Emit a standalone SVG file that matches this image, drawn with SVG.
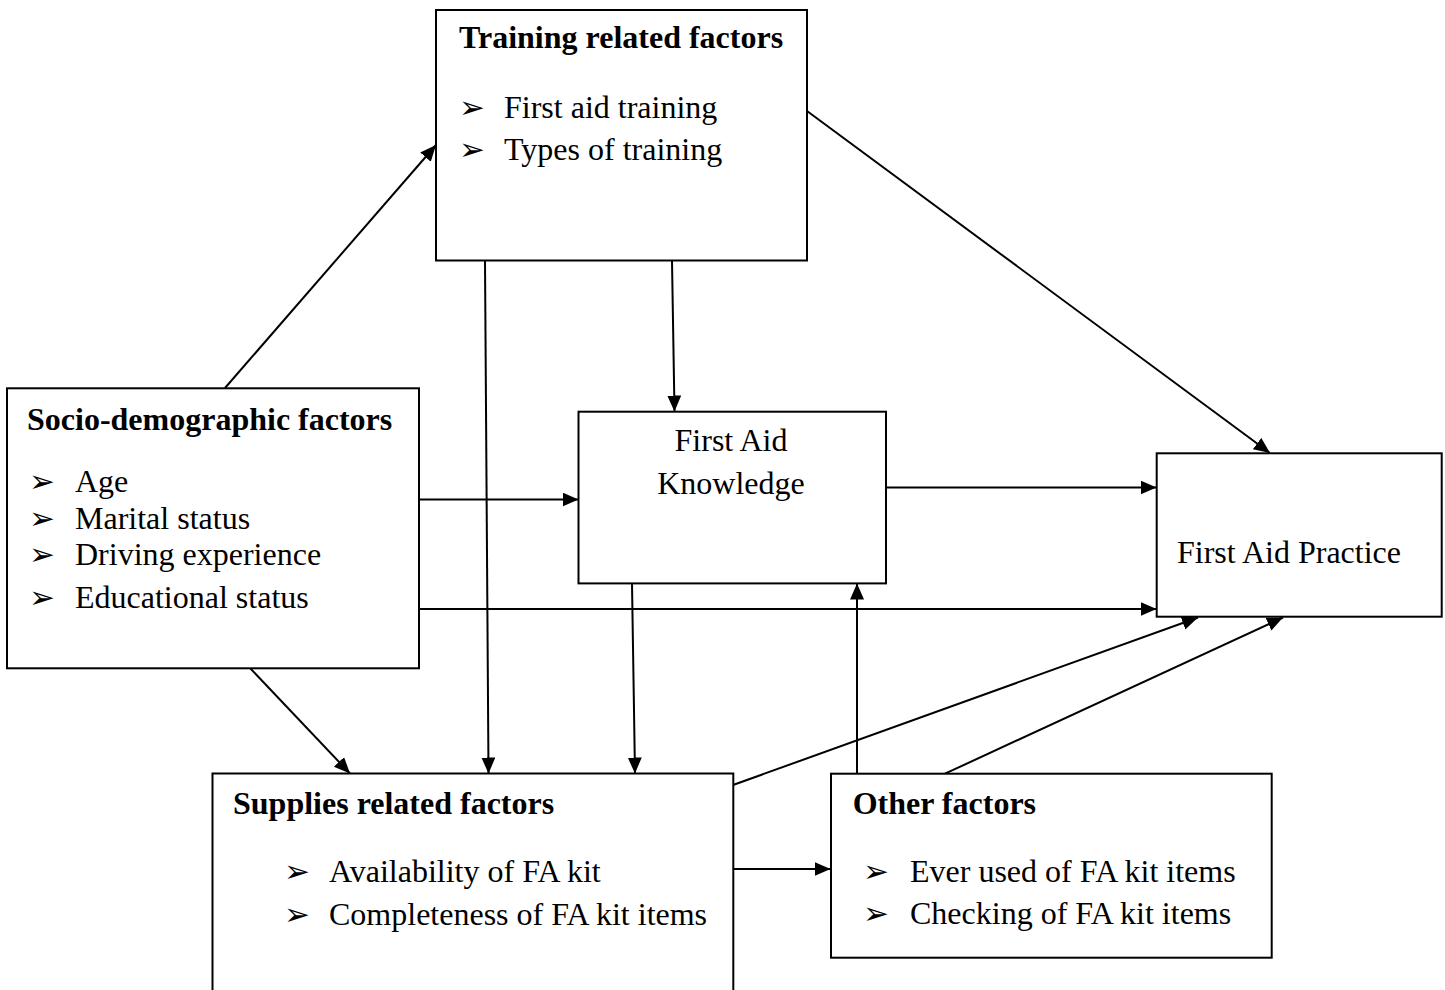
<svg xmlns="http://www.w3.org/2000/svg" width="1445" height="990" viewBox="0 0 1445 990">
<defs>
<marker id="ah" markerUnits="userSpaceOnUse" markerWidth="17" markerHeight="15" refX="16" refY="7" orient="auto">
<path d="M0,0 L16,7 L0,14 z" fill="#000"/>
</marker>
<style>
.box{fill:#fff;stroke:#000;stroke-width:2}
.ln{stroke:#000;stroke-width:2;fill:none;marker-end:url(#ah)}
text{font-family:"Liberation Serif","Times New Roman",serif;font-size:32px;fill:#000}
.t{font-weight:bold}
.b{font-family:"DejaVu Sans",sans-serif;font-size:31px}
</style>
</defs>
<rect width="1445" height="990" fill="#fff"/>
<g id="connectors">
<line class="ln" x1="225" y1="388" x2="436" y2="145"/>
<line class="ln" x1="807" y1="111" x2="1270" y2="453"/>
<line class="ln" x1="672" y1="261" x2="674.5" y2="411.5"/>
<line class="ln" x1="485" y1="261" x2="488.5" y2="773.5"/>
<line class="ln" x1="419" y1="499.5" x2="578.5" y2="499.5"/>
<line class="ln" x1="419" y1="609" x2="1156.5" y2="609"/>
<line class="ln" x1="886" y1="487.5" x2="1156.5" y2="487.5"/>
<line class="ln" x1="632" y1="583.5" x2="635" y2="773.5"/>
<line class="ln" x1="250" y1="668" x2="350" y2="773.5"/>
<line class="ln" x1="733" y1="785" x2="1198" y2="617.5"/>
<line class="ln" x1="945" y1="773.7" x2="1283" y2="617.5"/>
<line class="ln" x1="857" y1="773.7" x2="857" y2="583.5"/>
<line class="ln" x1="733" y1="869" x2="830.5" y2="869"/>
</g>
<g id="training">
<rect class="box" x="436" y="10" width="371" height="250.5"/>
<text class="t" x="459" y="48">Training related factors</text>
<text class="b" x="459" y="118">➢</text><text x="504" y="118">First aid training</text>
<text class="b" x="459" y="159.5">➢</text><text x="504" y="159.5">Types of training</text>
</g>
<g id="socio">
<rect class="box" x="7" y="388.3" width="412" height="280"/>
<text class="t" x="27" y="430">Socio-demographic factors</text>
<text class="b" x="29" y="492">➢</text><text x="75" y="492">Age</text>
<text class="b" x="29" y="528.5">➢</text><text x="75" y="528.5">Marital status</text>
<text class="b" x="29" y="565">➢</text><text x="75" y="565">Driving experience</text>
<text class="b" x="29" y="607.5">➢</text><text x="75" y="607.5">Educational status</text>
</g>
<g id="knowledge">
<rect class="box" x="578.5" y="411.7" width="307.5" height="171.7"/>
<text x="731" y="451" text-anchor="middle">First Aid</text>
<text x="731" y="493.5" text-anchor="middle">Knowledge</text>
</g>
<g id="practice">
<rect class="box" x="1156.7" y="453.3" width="285" height="163.4"/>
<text x="1177" y="562.5">First Aid Practice</text>
</g>
<g id="supplies">
<rect class="box" x="212.5" y="773.5" width="520.8" height="230"/>
<text class="t" x="233" y="813.5">Supplies related factors</text>
<text class="b" x="284" y="881.7">➢</text><text x="329" y="881.7">Availability of FA kit</text>
<text class="b" x="284" y="924.5">➢</text><text x="329" y="924.5">Completeness of FA kit items</text>
</g>
<g id="other">
<rect class="box" x="831" y="773.7" width="440.7" height="184"/>
<text class="t" x="852.7" y="813.5">Other factors</text>
<text class="b" x="863" y="881.7">➢</text><text x="910" y="881.7">Ever used of FA kit items</text>
<text class="b" x="863" y="923.5">➢</text><text x="910" y="923.5">Checking of FA kit items</text>
</g>
</svg>
